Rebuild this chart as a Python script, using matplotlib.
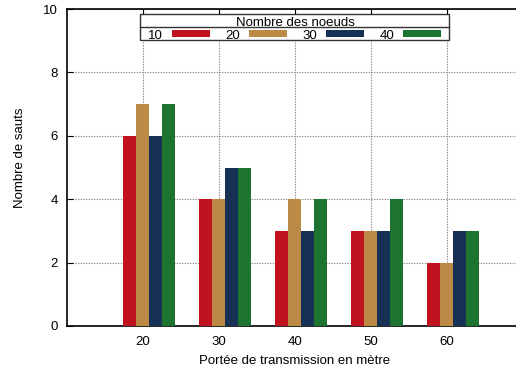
import numpy as np
import matplotlib
matplotlib.use("Agg")
import matplotlib.pyplot as plt
from matplotlib.patches import Rectangle
from matplotlib.lines import Line2D

plt.rcParams['font.family'] = ['Liberation Sans', 'DejaVu Sans']

portees = ['20', '30', '40', '50', '60']
noeuds = ['10', '20', '30', '40']
sauts_10 = [6, 4, 3, 3, 2]
sauts_20 = [7, 4, 4, 3, 2]
sauts_30 = [6, 5, 3, 3, 3]
sauts_40 = [7, 5, 4, 4, 3]
colors = ['#c1121f', '#bc8a45', '#173154', '#1d7330']

W, H = 516, 372
fig = plt.figure(figsize=(W / 100, H / 100), dpi=100)


def px(x, y):
    # pixel coords (from top-left) -> figure fraction
    return x / W, 1 - y / H


ax = fig.add_axes([67 / W, (H - 326) / H, 456 / W, 317 / H])
ax.set_xlim(-1, 5)
ax.set_ylim(0, 10)

series = [sauts_10, sauts_20, sauts_30, sauts_40]
x = np.arange(len(portees))
w = 0.171
for j, vals in enumerate(series):
    ax.bar(x - 0.26 + j * w, vals, width=w, align='edge', color=colors[j],
           edgecolor='none', zorder=3)

ax.set_xticks(x)
ax.set_xticklabels(portees)
ax.set_yticks(np.arange(0, 11, 2))
ax.tick_params(direction='in', length=4, width=0.8, labelsize=9.5,
               top=True, right=False, colors='black')
ax.tick_params(axis='x', pad=7.5)
ax.tick_params(axis='y', pad=6.5)
ax.grid(True, linestyle=(0, (1.2, 1.2)), color='#888888', linewidth=0.8, zorder=0)
ax.set_axisbelow(True)
for s in ['top', 'bottom', 'left']:
    ax.spines[s].set_linewidth(1.2)
ax.spines['right'].set_visible(False)

fig.text(*px(295, 361), 'Portée de transmission en mètre', ha='center', va='center', fontsize=9.5)
fig.text(*px(20, 158), 'Nombre de sauts', ha='center', va='center', rotation=90, fontsize=9.5)

# legend drawn gnuplot-style
x0, y0 = px(140, 40)
x1, y1 = px(449, 14)
fig.patches.append(Rectangle((x0, y0), x1 - x0, y1 - y0, transform=fig.transFigure,
                             facecolor='white', edgecolor='#333333', linewidth=1.0, zorder=5))
ly = px(0, 27)[1]
fig.lines.append(Line2D([x0, x1], [ly, ly], transform=fig.transFigure, color='#333333',
                        linewidth=1.0, zorder=6))
fig.text(*px(295, 25.5), 'Nombre des noeuds', ha='center', va='baseline', fontsize=9.5, zorder=7)
for j, lab in enumerate(noeuds):
    off = j * 77
    fig.text(*px(163 + off, 38.8), lab, ha='right', va='baseline', fontsize=9.5, zorder=7)
    sx0, sy0 = px(172 + off, 37)
    sx1, sy1 = px(210 + off, 30)
    fig.patches.append(Rectangle((sx0, sy0), sx1 - sx0, sy1 - sy0, transform=fig.transFigure,
                                 facecolor=colors[j], edgecolor='none', zorder=7))

fig.savefig('out.png', dpi=100)
